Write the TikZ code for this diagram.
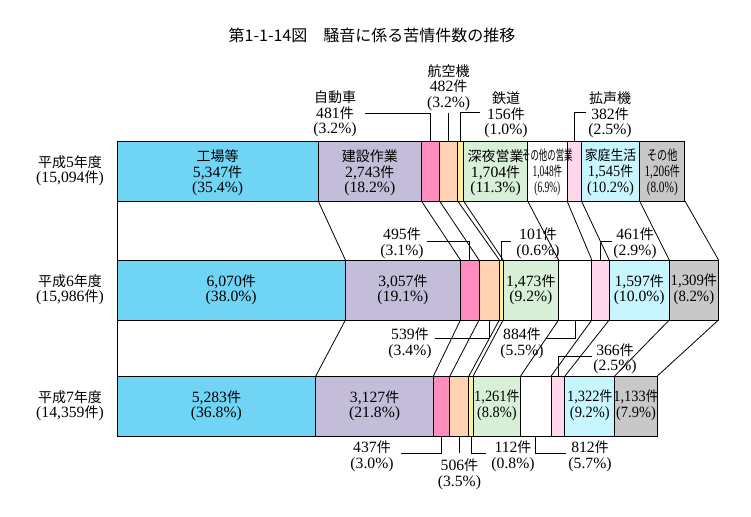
\documentclass[tikz,border=0pt]{standalone}
\usepackage{fontspec}
\usepackage{graphicx}
\usepackage{xcolor}
\usepackage{tikz}
\usetikzlibrary{positioning}
\setmainfont{Liberation Serif}[Scale=1.12]
\newfontfamily\cjk{Noto Sans CJK JP}
\newcommand{\jp}[1]{{\cjk #1}}
\newcommand{\jken}{\jp{件}}
\newcommand{\sqz}[2]{\scalebox{#1}[1]{\begin{tabular}{@{}c@{}}#2\end{tabular}}}
\definecolor{kojo}{HTML}{70D4F4}
\definecolor{kensetsu}{HTML}{C3BDDA}
\definecolor{jidosha}{HTML}{FF8CBE}
\definecolor{kokuki}{HTML}{FFD2B4}
\definecolor{tetsudo}{HTML}{FFF096}
\definecolor{shinya}{HTML}{D8F0D8}
\definecolor{eigyo}{HTML}{FFFFFF}
\definecolor{kakusei}{HTML}{FFD8EC}
\definecolor{katei}{HTML}{C8F6FF}
\definecolor{sonota}{HTML}{C8C8C8}

\begin{document}
\begin{tikzpicture}[x=1pt, y=-1pt,
  segbox/.style={draw, line width=1pt, outer sep=0pt, inner sep=0pt, minimum height=60pt, minimum width={#1*0.037631pt}},
  inlbl/.style={align=center, inner sep=0pt, font=\fontsize{14}{15.5}\selectfont},
  call/.style={align=center, inner sep=0pt, font=\fontsize{14}{15.5}\selectfont},
  lead/.style={line width=0.8pt}]
\useasboundingbox (0,0) rectangle (751,516);
\node[font=\cjk\fontsize{16}{18}\selectfont] (title) at (372,35) {第1-1-14図　騒音に係る苦情件数の推移};

% H5
\node[segbox=5347, fill=kojo, anchor=west] (h5kojo) at (117,171) {};
\node[segbox=2743, fill=kensetsu, right=0pt of h5kojo] (h5kens) {};
\node[segbox=481, fill=jidosha, right=0pt of h5kens] (h5jido) {};
\node[segbox=482, fill=kokuki, right=0pt of h5jido] (h5koku) {};
\node[segbox=156, fill=tetsudo, right=0pt of h5koku] (h5tets) {};
\node[segbox=1704, fill=shinya, right=0pt of h5tets] (h5shin) {};
\node[segbox=1048, fill=eigyo, right=0pt of h5shin] (h5eigy) {};
\node[segbox=382, fill=kakusei, right=0pt of h5eigy] (h5kaku) {};
\node[segbox=1545, fill=katei, right=0pt of h5kaku] (h5kate) {};
\node[segbox=1206, fill=sonota, right=0pt of h5kate] (h5sono) {};
% H6
\node[segbox=6070, fill=kojo, anchor=west] (h6kojo) at (117,290) {};
\node[segbox=3057, fill=kensetsu, right=0pt of h6kojo] (h6kens) {};
\node[segbox=495, fill=jidosha, right=0pt of h6kens] (h6jido) {};
\node[segbox=539, fill=kokuki, right=0pt of h6jido] (h6koku) {};
\node[segbox=101, fill=tetsudo, right=0pt of h6koku] (h6tets) {};
\node[segbox=1473, fill=shinya, right=0pt of h6tets] (h6shin) {};
\node[segbox=884, fill=eigyo, right=0pt of h6shin] (h6eigy) {};
\node[segbox=461, fill=kakusei, right=0pt of h6eigy] (h6kaku) {};
\node[segbox=1597, fill=katei, right=0pt of h6kaku] (h6kate) {};
\node[segbox=1309, fill=sonota, right=0pt of h6kate] (h6sono) {};
% H7
\node[segbox=5283, fill=kojo, anchor=west] (h7kojo) at (117,406) {};
\node[segbox=3127, fill=kensetsu, right=0pt of h7kojo] (h7kens) {};
\node[segbox=437, fill=jidosha, right=0pt of h7kens] (h7jido) {};
\node[segbox=506, fill=kokuki, right=0pt of h7jido] (h7koku) {};
\node[segbox=112, fill=tetsudo, right=0pt of h7koku] (h7tets) {};
\node[segbox=1261, fill=shinya, right=0pt of h7tets] (h7shin) {};
\node[segbox=812, fill=eigyo, right=0pt of h7shin] (h7eigy) {};
\node[segbox=366, fill=kakusei, right=0pt of h7eigy] (h7kaku) {};
\node[segbox=1322, fill=katei, right=0pt of h7kaku] (h7kate) {};
\node[segbox=1133, fill=sonota, right=0pt of h7kate] (h7sono) {};

% lines between years
\foreach \s in {kojo,kens,jido,koku,tets,shin,eigy,kaku,kate,sono} {
  \draw[lead] (h5\s.south east) -- (h6\s.north east);
  \draw[lead] (h6\s.south east) -- (h7\s.north east);
}
\draw[lead] (h5kojo.south west) -- (h6kojo.north west);
\draw[lead] (h6kojo.south west) -- (h7kojo.north west);

% years
\node[call, left=13pt of h5kojo] (y5) {\jp{平成}5\jp{年度}\\(15,094\jken)};
\node[call, left=13pt of h6kojo] (y6) {\jp{平成}6\jp{年度}\\(15,986\jken)};
\node[call, left=13pt of h7kojo] (y7) {\jp{平成}7\jp{年度}\\(14,359\jken)};

% labels in bars
\node[inlbl, yshift=-2pt] (l5kojo) at (h5kojo) {\jp{工場等}\\5,347\jken\\(35.4\%)};
\node[inlbl, yshift=-2pt] (l5kens) at (h5kens) {\jp{建設作業}\\2,743\jken\\(18.2\%)};
\node[inlbl, yshift=-2pt] (l5shin) at (h5shin) {\jp{深夜営業}\\1,704\jken\\(11.3\%)};
\node[inlbl, yshift=-2pt] (l5eigy) at (h5eigy) {\sqz{0.6}{\jp{その他の営業}\\1,048\jken\\(6.9\%)}};
\node[inlbl, yshift=-2pt] (l5kate) at (h5kate) {\sqz{0.92}{\jp{家庭生活}\\1,545\jken\\(10.2\%)}};
\node[inlbl, yshift=-2pt] (l5sono) at (h5sono) {\sqz{0.72}{\jp{その他}\\1,206\jken\\(8.0\%)}};
\node[inlbl] (l6kojo) at (h6kojo) {6,070\jken\\(38.0\%)};
\node[inlbl] (l6kens) at (h6kens) {3,057\jken\\(19.1\%)};
\node[inlbl] (l6shin) at (h6shin) {1,473\jken\\(9.2\%)};
\node[inlbl] (l6kate) at (h6kate) {1,597\jken\\(10.0\%)};
\node[inlbl] (l6sono) at (h6sono) {\sqz{0.94}{1,309\jken\\(8.2\%)}};
\node[inlbl] (l7kojo) at (h7kojo) {5,283\jken\\(36.8\%)};
\node[inlbl] (l7kens) at (h7kens) {3,127\jken\\(21.8\%)};
\node[inlbl] (l7shin) at (h7shin) {\sqz{0.92}{1,261\jken\\(8.8\%)}};
\node[inlbl] (l7kate) at (h7kate) {\sqz{0.92}{1,322\jken\\(9.2\%)}};
\node[inlbl] (l7sono) at (h7sono) {\sqz{0.92}{1,133\jken\\(7.9\%)}};

% callouts H5
\node[call] (c5jido) at (335,114) {\jp{自動車}\\481\jken\\(3.2\%)};
\draw[lead] (h5jido.north) |- ([shift={(8pt,1pt)}]c5jido.east);
\node[call, above=30pt of h5koku] (c5koku) {\jp{航空機}\\482\jken\\(3.2\%)};
\draw[lead] (h5koku.north) -- ([yshift=-2pt]c5koku.south);
\node[call] (c5tets) at (506,115) {\jp{鉄道}\\156\jken\\(1.0\%)};
\draw[lead] (h5tets.north) |- ([shift={(-4pt,3pt)}]c5tets.west);
\node[call] (c5kaku) at (610,115) {\jp{拡声機}\\382\jken\\(2.5\%)};
\draw[lead] (h5kaku.north) |- ([shift={(-2pt,3pt)}]c5kaku.west);

% callouts H6
\node[call] (c6jido) at (402,243.5) {495\jken\\(3.1\%)};
\draw[lead] (h6jido.north) |- ([shift={(3pt,2.5pt)}]c6jido.east);
\node[call] (c6tets) at (538,243.5) {101\jken\\(0.6\%)};
\draw[lead] (h6tets.north) |- ([shift={(-5pt,2.5pt)}]c6tets.west);
\node[call] (c6kaku) at (635,243.5) {461\jken\\(2.9\%)};
\draw[lead] (h6kaku.north) |- ([shift={(-1pt,2.5pt)}]c6kaku.west);
\node[call] (c6koku) at (410,343.5) {539\jken\\(3.4\%)};
\draw[lead] (h6koku.south) |- ([shift={(3pt,5pt)}]c6koku.east);
\node[call] (c6eigy) at (522,343.5) {884\jken\\(5.5\%)};
\draw[lead] (h6eigy.south) |- ([shift={(2pt,5pt)}]c6eigy.east);

% callouts H7
\node[call] (c7kaku) at (615,359) {366\jken\\(2.5\%)};
\draw[lead] (h7kaku.north) |- ([shift={(-1pt,3pt)}]c7kaku.west);
\node[call] (c7jido) at (372,456.5) {437\jken\\(3.0\%)};
\draw[lead] (h7jido.south) |- ([shift={(7pt,3.5pt)}]c7jido.east);
\node[call, below=23pt of h7koku] (c7koku) {506\jken\\(3.5\%)};
\draw[lead] (h7koku.south) -- ([yshift=6pt]c7koku.north);
\node[call] (c7tets) at (513,456.5) {112\jken\\(0.8\%)};
\draw[lead] (h7tets.south) |- ([shift={(-5pt,3.5pt)}]c7tets.west);
\node[call] (c7eigy) at (590,456.5) {812\jken\\(5.7\%)};
\draw[lead] (h7eigy.south) |- ([shift={(-2pt,3.5pt)}]c7eigy.west);
\end{tikzpicture}
\end{document}
